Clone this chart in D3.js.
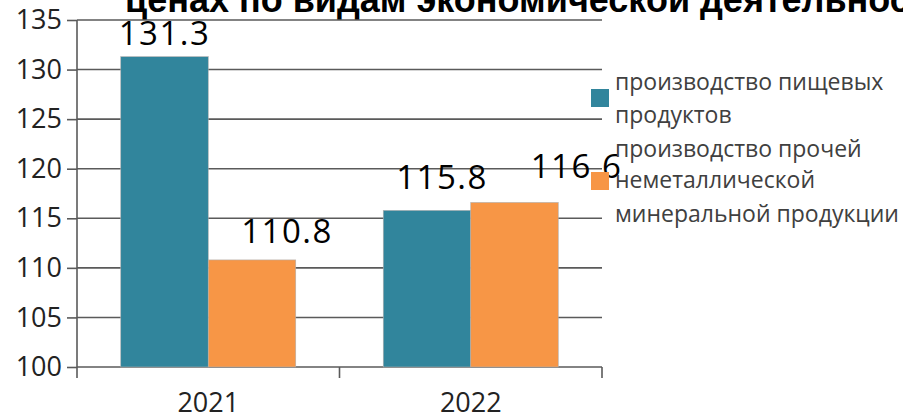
<!DOCTYPE html>
<html>
<head>
<meta charset="utf-8">
<script src="https://cdn.jsdelivr.net/npm/d3@7"></script>
<style>
  body { margin: 0; background: #fff; }
</style>
</head>
<body>
<div id="chart"></div>
<script>
var years = ["2021", "2022"];
var seriesNames = ["производство пищевых продуктов", "производство прочей неметаллической минеральной продукции"];
var foodValues = [131.3, 115.8];
var mineralValues = [110.8, 116.6];
var yTicks = [100, 105, 110, 115, 120, 125, 130, 135];
var titleText = "ценах по видам экономической деятельности";

var legendLines = [["производство пищевых", "продуктов"], ["производство прочей", "неметаллической", "минеральной продукции"]];
var colors = ["#31859c", "#f79646"];
// label nudges [dx, gap above bar] - the labels in the source are not centred
var labelNudge = [[[0, 12], [15, 21]], [[35, 17], [62, 24]]];

var W = 903, H = 413;
var mLeft = 77, mRight = 602, mTop = 20, mBottom = 367;

var svg = d3.select("#chart").append("svg")
  .attr("width", W).attr("height", H);

var x0 = d3.scaleBand().domain(years).range([mLeft, mRight]).padding(0);
var bw = x0.bandwidth();
var x1 = d3.scaleBand().domain([0, 1]).range([bw / 6, bw * 5 / 6]).padding(0);
var y = d3.scaleLinear().domain([100, 135]).range([mBottom, mTop]);

var series = [foodValues, mineralValues];

// title (cut at the top of the picture)
svg.append("text")
  .attr("x", 125).attr("y", 12)
  .style("font-family", "Liberation Sans, Arial, sans-serif")
  .style("font-weight", "bold")
  .style("font-size", "36px")
  .attr("fill", "#000")
  .text(titleText);

// gridlines
svg.append("g").selectAll("line").data(yTicks).enter().append("line")
  .attr("x1", mLeft).attr("x2", mRight)
  .attr("y1", function (d) { return y(d); }).attr("y2", function (d) { return y(d); })
  .attr("stroke", "#5a5a5a").attr("stroke-width", 1.6);

// bars
series.forEach(function (vals, si) {
  svg.append("g").selectAll("rect").data(vals).enter().append("rect")
    .attr("x", function (d, i) { return x0(years[i]) + x1(si); })
    .attr("y", function (d) { return y(d); })
    .attr("width", x1.bandwidth())
    .attr("height", function (d) { return y(100) - y(d); })
    .attr("fill", colors[si])
    .attr("stroke", "#b0b0b0").attr("stroke-width", 0.6);
});

// y axis
var yAxis = svg.append("g")
  .attr("transform", "translate(" + mLeft + ",0)")
  .call(d3.axisLeft(y).tickValues(yTicks).tickSize(10).tickPadding(5).tickFormat(d3.format("d")));
yAxis.select(".domain").remove();
yAxis.append("line").attr("x1", 0).attr("x2", 0).attr("y1", mTop).attr("y2", mBottom + 11)
  .attr("stroke", "#5a5a5a").attr("stroke-width", 1.6);
yAxis.selectAll(".tick line").attr("stroke", "#5a5a5a").attr("stroke-width", 1.6);
yAxis.selectAll(".tick text")
  .style("font-family", "Open Sans, sans-serif").style("font-size", "27px").attr("fill", "#222");

// x axis
var xAxis = svg.append("g")
  .attr("transform", "translate(0," + mBottom + ")")
  .call(d3.axisBottom(x0).tickSize(0).tickPadding(0));
xAxis.select(".domain").remove();
xAxis.selectAll(".tick text")
  .attr("y", 45).attr("dy", null)
  .style("font-family", "Open Sans, sans-serif").style("font-size", "27px").attr("fill", "#222");
xAxis.selectAll(".bound").data(years).enter().append("line")
  .attr("x1", function (d) { return x0(d) + bw; }).attr("x2", function (d) { return x0(d) + bw; })
  .attr("y1", 0).attr("y2", 11)
  .attr("stroke", "#5a5a5a").attr("stroke-width", 1.6);

// value labels
series.forEach(function (vals, si) {
  svg.append("g").selectAll("text").data(vals).enter().append("text")
    .attr("x", function (d, i) { return x0(years[i]) + x1(si) + x1.bandwidth() / 2 + labelNudge[si][i][0]; })
    .attr("y", function (d, i) { return y(d) - labelNudge[si][i][1]; })
    .attr("text-anchor", "middle")
    .style("font-family", "Open Sans, sans-serif")
    .style("font-size", "33px")
    .style("letter-spacing", "1.5px")
    .attr("fill", "#000")
    .text(function (d) { return d3.format(".1f")(d); });
});

// legend
var legend = svg.append("g");
var sqY = [89, 172];
var textY = [[90, 123], [157, 188, 222]];
legendLines.forEach(function (lines, si) {
  legend.append("rect")
    .attr("x", 591).attr("y", sqY[si]).attr("width", 18).attr("height", 18)
    .attr("fill", colors[si]);
  lines.forEach(function (l, li) {
    legend.append("text")
      .attr("x", 615).attr("y", textY[si][li])
      .style("font-family", "Open Sans, sans-serif")
      .style("font-size", "23px")
      .attr("fill", "#404040")
      .text(l);
  });
});
</script>
</body>
</html>
